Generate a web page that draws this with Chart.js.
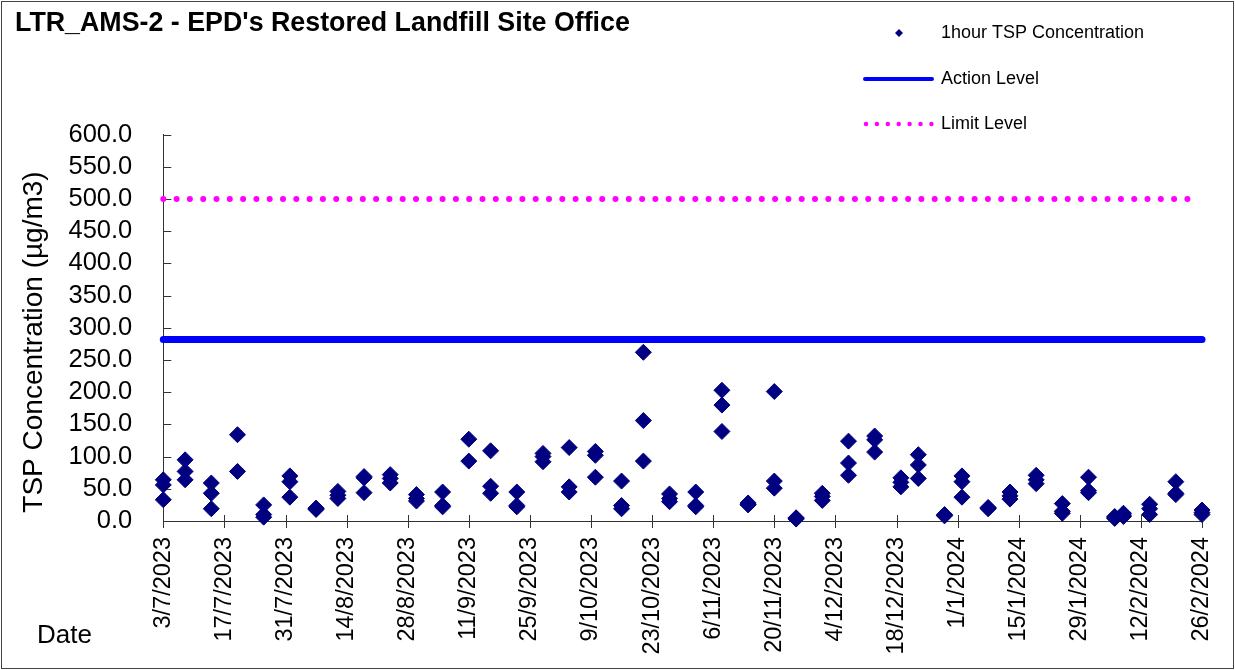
<!DOCTYPE html>
<html>
<head>
<meta charset="utf-8">
<script src="https://cdn.jsdelivr.net/npm/chart.js@4"></script>
<style>
  body { margin: 0; background: #fff; }
  canvas { display: block; }
</style>
</head>
<body>
<canvas id="tsp" width="1235" height="670"></canvas>
<script>
// sampling dates (d/m/yyyy) and the 1-hour TSP readings taken on each day
var sampleDates = [
    "3/7/2023", "8/7/2023", "14/7/2023", "20/7/2023", "26/7/2023", "1/8/2023", "7/8/2023",
    "12/8/2023", "18/8/2023", "24/8/2023", "30/8/2023", "5/9/2023", "11/9/2023", "16/9/2023",
    "22/9/2023", "28/9/2023", "4/10/2023", "10/10/2023", "16/10/2023", "21/10/2023", "27/10/2023",
    "2/11/2023", "8/11/2023", "14/11/2023", "20/11/2023", "25/11/2023", "1/12/2023", "7/12/2023",
    "13/12/2023", "19/12/2023", "23/12/2023", "29/12/2023", "2/1/2024", "8/1/2024", "13/1/2024",
    "19/1/2024", "25/1/2024", "31/1/2024", "6/2/2024", "8/2/2024", "14/2/2024", "20/2/2024",
    "26/2/2024"
];
var tspReadings = [
    [64, 56, 33], [95, 77, 64], [59, 43, 19], [134, 77], [25, 10, 6], [70, 61, 37], [19, 20, 18],
    [46, 40, 35], [69, 67, 44], [72, 66, 59], [41, 35, 31], [45, 24, 22], [127, 93], [109, 54, 43],
    [45, 24, 22], [105, 100, 92], [114, 53, 45], [108, 102, 68], [62, 24, 19], [262, 156, 93], [42, 35, 30],
    [45, 24, 22], [203, 180, 139], [28, 26, 25], [201, 62, 51], [5, 4, 3], [43, 38, 32], [124, 90, 71],
    [132, 126, 107], [67, 60, 53], [103, 87, 66], [10, 9, 8], [70, 61, 37], [20, 19, 21], [45, 39, 34],
    [71, 64, 58], [27, 15, 12], [68, 47, 44], [4, 7, 5], [12, 9, 7], [26, 19, 10], [61, 43, 41],
    [17, 13, 10]
];
var tickLabels = [
    "3/7/2023", "17/7/2023", "31/7/2023", "14/8/2023", "28/8/2023", "11/9/2023", "25/9/2023",
    "9/10/2023", "23/10/2023", "6/11/2023", "20/11/2023", "4/12/2023", "18/12/2023", "1/1/2024",
    "15/1/2024", "29/1/2024", "12/2/2024", "26/2/2024"
];
var actionLevel = 282;
var limitLevel = 500;

var FONT = "'Liberation Sans', Arial, sans-serif";

function dayOf(str) {
    var p = str.split("/");
    var start = Date.UTC(2023, 6, 3);
    return Math.round((Date.UTC(+p[2], +p[1] - 1, +p[0]) - start) / 86400000);
}
var firstDay = dayOf(tickLabels[0]);
var lastDay = dayOf(tickLabels[tickLabels.length - 1]);

var points = [];
sampleDates.forEach(function (d, i) {
    tspReadings[i].forEach(function (v) {
        points.push({ x: dayOf(d), y: v });
    });
});

// title, legend, axis titles, inward ticks and frame
var decor = {
    id: "decor",
    beforeDatasetsDraw: function (chart) {
        var ctx = chart.ctx;
        var xs = chart.scales.x, ys = chart.scales.y, a = chart.chartArea;
        ctx.save();
        ctx.strokeStyle = "#333";
        ctx.lineWidth = 1;
        ctx.beginPath();
        ys.ticks.forEach(function (t) {
            var y = Math.round(ys.getPixelForValue(t.value)) + 0.5;
            ctx.moveTo(a.left, y);
            ctx.lineTo(a.left + 8, y);
        });
        xs.ticks.forEach(function (t) {
            var x = Math.round(xs.getPixelForValue(t.value)) + 0.5;
            ctx.moveTo(x, a.bottom - 6);
            ctx.lineTo(x, a.bottom + 7);
        });
        ctx.stroke();
        ctx.restore();
    },
    afterDraw: function (chart) {
        var ctx = chart.ctx;
        ctx.save();
        ctx.strokeStyle = "#444";
        ctx.lineWidth = 1;
        ctx.strokeRect(1.5, 1.5, chart.width - 3, chart.height - 3);

        ctx.fillStyle = "#000";
        ctx.textBaseline = "alphabetic";
        ctx.textAlign = "left";
        ctx.font = "bold 26.8px " + FONT;
        ctx.fillText("LTR_AMS-2 - EPD's Restored Landfill Site Office", 15, 31);

        ctx.font = "26px " + FONT;
        ctx.fillText("Date", 37, 643);

        ctx.save();
        ctx.translate(34, 342);
        ctx.rotate(-Math.PI / 2);
        ctx.textAlign = "center";
        ctx.textBaseline = "middle";
        ctx.font = "28px " + FONT;
        ctx.fillText("TSP Concentration (\u00b5g/m3)", 0, 0);
        ctx.restore();

        // legend
        ctx.font = "18px " + FONT;
        ctx.textBaseline = "middle";
        ctx.fillText("1hour TSP Concentration", 941, 33);
        ctx.fillText("Action Level", 941, 79);
        ctx.fillText("Limit Level", 941, 124);

        ctx.fillStyle = "#000080";
        ctx.beginPath();
        ctx.moveTo(899, 29);
        ctx.lineTo(903, 33);
        ctx.lineTo(899, 37);
        ctx.lineTo(895, 33);
        ctx.closePath();
        ctx.fill();

        ctx.strokeStyle = "#0000ff";
        ctx.lineWidth = 4;
        ctx.lineCap = "round";
        ctx.beginPath();
        ctx.moveTo(865, 79);
        ctx.lineTo(932, 79);
        ctx.stroke();

        ctx.strokeStyle = "#ff00ff";
        ctx.lineWidth = 4.5;
        ctx.setLineDash([0, 10.9]);
        ctx.beginPath();
        ctx.moveTo(866, 124);
        ctx.lineTo(932, 124);
        ctx.stroke();
        ctx.restore();
    }
};

var ctx = document.getElementById("tsp").getContext("2d");
var myChart = new Chart(ctx, {
    type: "scatter",
    data: {
        datasets: [
            {
                label: "1hour TSP Concentration",
                data: points,
                pointStyle: "rectRot",
                pointRadius: 8,
                backgroundColor: "#000080",
                borderColor: "#000080",
                borderWidth: 1,
                clip: false,
            },
            {
                label: "Action Level",
                type: "line",
                data: [{ x: firstDay, y: actionLevel }, { x: lastDay, y: actionLevel }],
                borderColor: "#0000ff",
                borderWidth: 7,
                borderCapStyle: "round",
                pointRadius: 0,
                clip: false,
            },
            {
                label: "Limit Level",
                type: "line",
                data: [{ x: firstDay, y: limitLevel }, { x: lastDay - 0.5, y: limitLevel }],
                borderColor: "#ff00ff",
                borderWidth: 6,
                borderDash: [0, 13.3],
                borderCapStyle: "round",
                pointRadius: 0,
                clip: false,
            },
        ],
    },
    options: {
        responsive: false,
        animation: false,
        devicePixelRatio: 1,
        layout: {
            padding: { top: 134.6, right: 33, bottom: 0, left: 0 },
        },
        scales: {
            x: {
                type: "linear",
                min: firstDay,
                max: lastDay,
                afterFit: function (scale) {
                    scale.height = 149;
                    scale.paddingLeft = 0;
                    scale.paddingRight = 0;
                },
                afterBuildTicks: function (scale) {
                    scale.ticks = tickLabels.map(function (l) {
                        return { value: dayOf(l) };
                    });
                },
                ticks: {
                    autoSkip: false,
                    maxRotation: 90,
                    minRotation: 90,
                    padding: 16,
                    color: "#000",
                    font: { family: FONT, size: 23.5 },
                    callback: function (value) {
                        var i = tickLabels.findIndex(function (l) { return dayOf(l) === value; });
                        return i >= 0 ? tickLabels[i] : "";
                    },
                },
                grid: { display: true, drawOnChartArea: false, drawTicks: false },
                border: { color: "#333", width: 1 },
            },
            y: {
                min: 0,
                max: 600,
                afterFit: function (scale) {
                    scale.width = 163.3;
                },
                ticks: {
                    stepSize: 50,
                    autoSkip: false,
                    padding: 31,
                    color: "#000",
                    font: { family: FONT, size: 25.5 },
                    callback: function (value) {
                        return value.toFixed(1);
                    },
                },
                grid: { display: true, drawOnChartArea: false, drawTicks: false },
                border: { color: "#333", width: 1 },
            },
        },
        plugins: {
            legend: { display: false },
            tooltip: { enabled: false },
        },
    },
    plugins: [decor],
});
</script>
</body>
</html>
